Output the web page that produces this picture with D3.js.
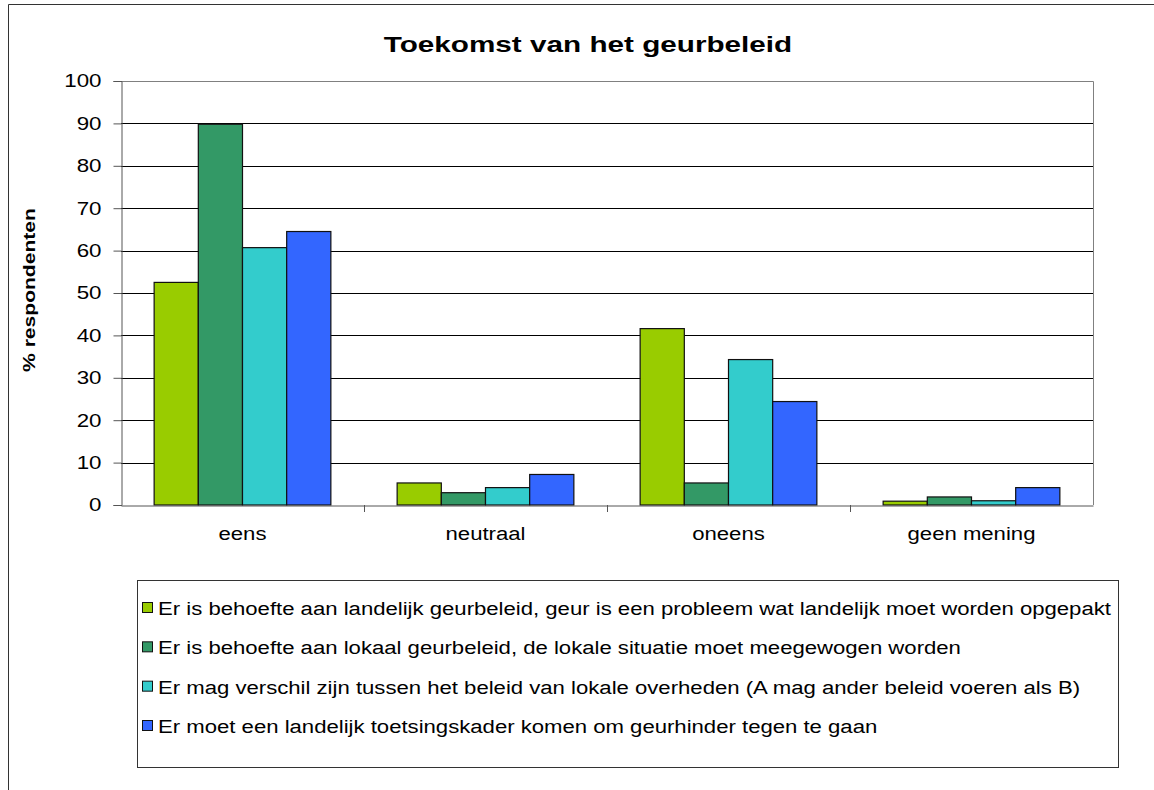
<!DOCTYPE html>
<html>
<head>
<meta charset="utf-8">
<script src="https://cdn.jsdelivr.net/npm/d3@7"></script>
<style>
  body { margin: 0; background: #fff; }
  text { font-family: "Liberation Sans", Arial, sans-serif; fill: #000; }
</style>
</head>
<body>
<div id="chart"></div>
<script>
const categories = ["eens", "neutraal", "oneens", "geen mening"];
const seriesNames = [
  "Er is behoefte aan landelijk geurbeleid, geur is een probleem wat landelijk moet worden opgepakt",
  "Er is behoefte aan lokaal geurbeleid, de lokale situatie moet meegewogen worden",
  "Er mag verschil zijn tussen het beleid van lokale overheden (A mag ander beleid voeren als B)",
  "Er moet een landelijk toetsingskader komen om geurhinder tegen te gaan"
];
const landelijk = [52.5, 5.2, 41.6, 0.9];
const lokaal = [89.8, 2.9, 5.2, 1.9];
const verschil = [60.7, 4.1, 34.3, 1.0];
const toetsing = [64.5, 7.2, 24.4, 4.1];
const yTicks = [0, 10, 20, 30, 40, 50, 60, 70, 80, 90, 100];
const colors = ["#99CC00", "#339966", "#33CCCC", "#3366FF"];

const allSeries = [landelijk, lokaal, verschil, toetsing];

const width = 1154, height = 790;
const svg = d3.select("#chart").append("svg")
  .attr("width", width).attr("height", height);

// the original renders its text wide, so stretch it horizontally
const wide = 1.23;

// outer chart border
svg.append("path")
  .attr("d", "M8.5,790 L8.5,4.5 L1154,4.5")
  .attr("fill", "none").attr("stroke", "#333").attr("stroke-width", 1);

const plot = { left: 121, top: 81, right: 1093, bottom: 505 };

const x0 = d3.scaleBand().domain(categories)
  .range([plot.left, plot.right]).paddingInner(0).paddingOuter(0);
const bw = x0.bandwidth() / 5.5;
const x1 = d3.scaleBand().domain(d3.range(4))
  .range([0.75 * bw, 4.75 * bw]);
const y = d3.scaleLinear().domain([0, 100]).range([plot.bottom, plot.top]);

// gridlines
svg.append("g").selectAll("line")
  .data(yTicks.filter(t => t > 0 && t < 100))
  .join("line")
  .attr("x1", plot.left).attr("x2", plot.right)
  .attr("y1", d => Math.round(y(d)) + 0.5).attr("y2", d => Math.round(y(d)) + 0.5)
  .attr("stroke", "#000");

// plot area border (top and right)
svg.append("path")
  .attr("d", `M${plot.left},${plot.top + 0.5} L${plot.right + 0.5},${plot.top + 0.5} L${plot.right + 0.5},${plot.bottom}`)
  .attr("fill", "none").attr("stroke", "#808080");

// bars
allSeries.forEach((vals, si) => {
  svg.append("g").selectAll("rect")
    .data(vals)
    .join("rect")
    .attr("x", (d, i) => x0(categories[i]) + x1(si))
    .attr("y", d => y(d))
    .attr("width", x1.bandwidth())
    .attr("height", d => y(0) - y(d))
    .attr("fill", colors[si])
    .attr("stroke", "#111")
    .attr("stroke-width", 1.2);
});

// y axis
const yAxis = svg.append("g")
  .attr("transform", `translate(${plot.left + 0.5},0)`)
  .call(d3.axisLeft(y).tickValues(yTicks).tickSize(8).tickPadding(11));
yAxis.select(".domain").attr("stroke", "#555");
yAxis.selectAll(".tick line").attr("stroke", "#555");
yAxis.selectAll("text")
  .style("font-size", "18.6px").attr("fill", "#000")
  .attr("x", -20 / 1.2)
  .attr("transform", "scale(1.2,1)");

// x axis
const xAxis = svg.append("g")
  .attr("transform", `translate(0,${plot.bottom + 0.5})`)
  .call(d3.axisBottom(x0).tickSize(0).tickPadding(22));
xAxis.select(".domain").attr("stroke", "#555");
xAxis.selectAll("text")
  .style("font-size", "18px").attr("fill", "#000")
  .attr("transform", `scale(${wide},1)`);
svg.append("g").selectAll("line")
  .data(categories.slice(1))
  .join("line")
  .attr("x1", d => Math.round(x0(d)) + 0.5).attr("x2", d => Math.round(x0(d)) + 0.5)
  .attr("y1", plot.bottom).attr("y2", plot.bottom + 7)
  .attr("stroke", "#555");

// title
svg.append("text")
  .attr("transform", "translate(588,52) scale(1.32,1)")
  .attr("text-anchor", "middle")
  .style("font-size", "22.5px").style("font-weight", "bold")
  .text("Toekomst van het geurbeleid");

// y label
svg.append("text")
  .attr("transform", `translate(35,290) rotate(-90) scale(1.24,1)`)
  .attr("text-anchor", "middle")
  .style("font-size", "17px").style("font-weight", "bold")
  .text("% respondenten");

// legend
const legend = { left: 137, top: 580, right: 1118, bottom: 767 };
svg.append("rect")
  .attr("x", legend.left + 0.5).attr("y", legend.top + 0.5)
  .attr("width", legend.right - legend.left).attr("height", legend.bottom - legend.top)
  .attr("fill", "#fff").attr("stroke", "#333");

const rowY = d3.scalePoint().domain(d3.range(4)).range([608, 726]);
const lg = svg.append("g").selectAll("g")
  .data(seriesNames)
  .join("g")
  .attr("transform", (d, i) => `translate(0,${rowY(i)})`);
lg.append("rect")
  .attr("x", 142.5).attr("y", -5.5).attr("width", 10).attr("height", 10)
  .attr("fill", (d, i) => colors[i]).attr("stroke", "#111");
lg.append("text")
  .attr("transform", `translate(158,7) scale(${wide},1)`)
  .style("font-size", "18px")
  .text(d => d);
</script>
</body>
</html>
